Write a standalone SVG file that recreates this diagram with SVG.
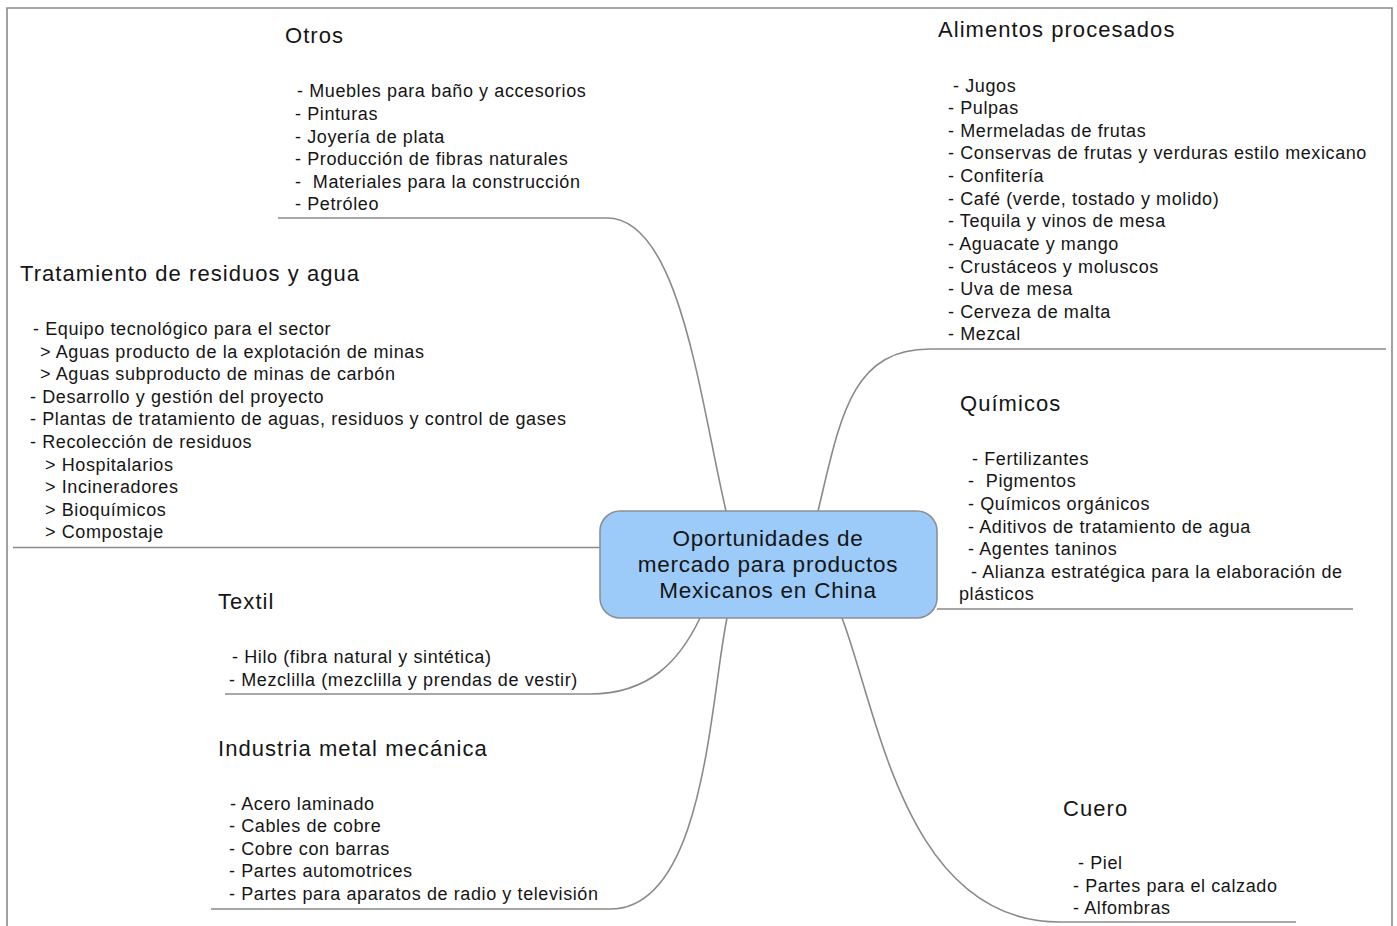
<svg xmlns="http://www.w3.org/2000/svg" width="1397" height="926" viewBox="0 0 1397 926">
<style>
.frame{fill:none;stroke:#8a8a8a;stroke-width:1.6}
.conn{fill:none;stroke:#8a8a8a;stroke-width:1.6}
.h{font-family:"Liberation Sans",Arial,sans-serif;font-size:22px;letter-spacing:1.05px;fill:#151515}
.i{font-family:"Liberation Sans",Arial,sans-serif;font-size:18px;letter-spacing:0.6px;fill:#151515}
.c{font-family:"Liberation Sans",Arial,sans-serif;font-size:22.5px;letter-spacing:0.75px;fill:#151515;text-anchor:middle}
.core{fill:#9ccbfa;stroke:#8c8f94;stroke-width:1.6}
</style>
<rect width="1397" height="926" fill="#ffffff"/>
<path class="frame" d="M7,930 V8 H1392 V930"/>
<g id="connectors">
<path class="conn" d="M278,218 H607 C680,218 700,400 726,511"/>
<path class="conn" d="M818,511 C840,420 850,349 930,349 H1386"/>
<path class="conn" d="M937,609 H1353"/>
<path class="conn" d="M13,547.5 H600"/>
<path class="conn" d="M700,618 C680,660 650,694 590,694 H225"/>
<path class="conn" d="M727,618 C710,700 705,909 610,909 H211"/>
<path class="conn" d="M842,618 C878,712 905,922 1060,922 H1296"/>
</g>
<g id="center">
<rect class="core" x="600" y="511" width="337" height="107" rx="20" ry="20"/>
<text class="c" x="768" y="546">Oportunidades de</text>
<text class="c" x="768" y="572">mercado para productos</text>
<text class="c" x="768" y="598">Mexicanos en China</text>
</g>
<g id="otros">
<text class="h" x="285" y="43">Otros</text>
<text class="i" x="297" y="97">- Muebles para baño y accesorios</text>
<text class="i" x="295" y="120">- Pinturas</text>
<text class="i" x="295" y="143">- Joyería de plata</text>
<text class="i" x="295" y="165">- Producción de fibras naturales</text>
<text class="i" x="295" y="188" xml:space="preserve">-  Materiales para la construcción</text>
<text class="i" x="295" y="210">- Petróleo</text>
</g>
<g id="alimentos">
<text class="h" x="938" y="37">Alimentos procesados</text>
<text class="i" x="953" y="92">- Jugos</text>
<text class="i" x="948" y="114">- Pulpas</text>
<text class="i" x="948" y="137">- Mermeladas de frutas</text>
<text class="i" x="948" y="159">- Conservas de frutas y verduras estilo mexicano</text>
<text class="i" x="948" y="182">- Confitería</text>
<text class="i" x="948" y="205">- Café (verde, tostado y molido)</text>
<text class="i" x="948" y="227">- Tequila y vinos de mesa</text>
<text class="i" x="948" y="250">- Aguacate y mango</text>
<text class="i" x="948" y="273">- Crustáceos y moluscos</text>
<text class="i" x="948" y="295">- Uva de mesa</text>
<text class="i" x="948" y="318">- Cerveza de malta</text>
<text class="i" x="948" y="340">- Mezcal</text>
</g>
<g id="quimicos">
<text class="h" x="960" y="411">Químicos</text>
<text class="i" x="972" y="465">- Fertilizantes</text>
<text class="i" x="968" y="487" xml:space="preserve">-  Pigmentos</text>
<text class="i" x="968" y="510">- Químicos orgánicos</text>
<text class="i" x="968" y="533">- Aditivos de tratamiento de agua</text>
<text class="i" x="968" y="555">- Agentes taninos</text>
<text class="i" x="971" y="578">- Alianza estratégica para la elaboración de</text>
<text class="i" x="959" y="600">plásticos</text>
</g>
<g id="tratamiento">
<text class="h" x="20" y="281">Tratamiento de residuos y agua</text>
<text class="i" x="33" y="335">- Equipo tecnológico para el sector</text>
<text class="i" x="40" y="358">&gt; Aguas producto de la explotación de minas</text>
<text class="i" x="40" y="380">&gt; Aguas subproducto de minas de carbón</text>
<text class="i" x="30" y="403">- Desarrollo y gestión del proyecto</text>
<text class="i" x="30" y="425">- Plantas de tratamiento de aguas, residuos y control de gases</text>
<text class="i" x="30" y="448">- Recolección de residuos</text>
<text class="i" x="45" y="471">&gt; Hospitalarios</text>
<text class="i" x="45" y="493">&gt; Incineradores</text>
<text class="i" x="45" y="516">&gt; Bioquímicos</text>
<text class="i" x="45" y="538">&gt; Compostaje</text>
</g>
<g id="textil">
<text class="h" x="218" y="609">Textil</text>
<text class="i" x="232" y="663">- Hilo (fibra natural y sintética)</text>
<text class="i" x="229" y="686">- Mezclilla (mezclilla y prendas de vestir)</text>
</g>
<g id="metal">
<text class="h" x="218" y="756">Industria metal mecánica</text>
<text class="i" x="230" y="810">- Acero laminado</text>
<text class="i" x="229" y="832">- Cables de cobre</text>
<text class="i" x="229" y="855">- Cobre con barras</text>
<text class="i" x="229" y="877">- Partes automotrices</text>
<text class="i" x="229" y="900">- Partes para aparatos de radio y televisión</text>
</g>
<g id="cuero">
<text class="h" x="1063" y="816">Cuero</text>
<text class="i" x="1078" y="869">- Piel</text>
<text class="i" x="1073" y="892">- Partes para el calzado</text>
<text class="i" x="1073" y="914">- Alfombras</text>
</g>
</svg>
